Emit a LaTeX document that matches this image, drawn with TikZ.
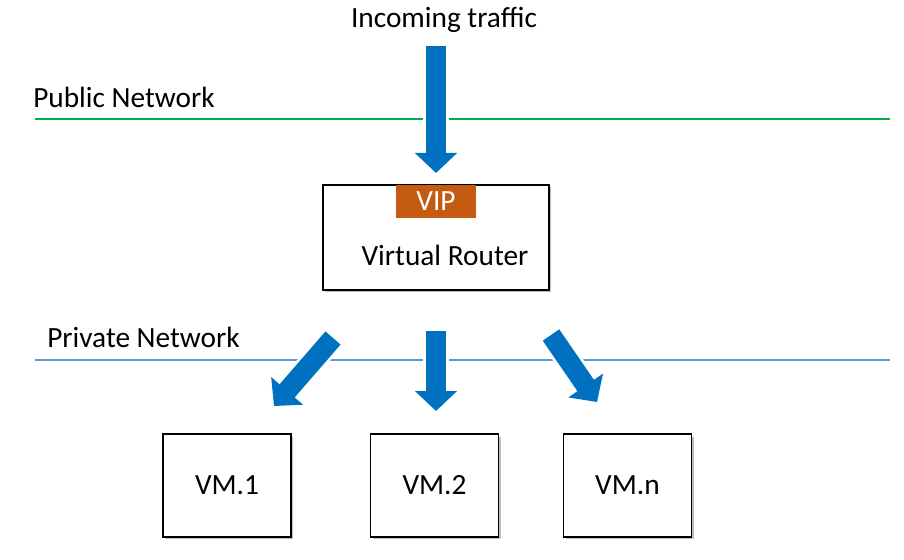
\documentclass[tikz,border=0pt]{standalone}
\usepackage{fontspec}
\setmainfont{Carlito}
\usetikzlibrary{arrows.meta,shadows}
\definecolor{flowblue}{HTML}{0070C0}
\definecolor{pubgreen}{HTML}{00B050}
\definecolor{privblue}{HTML}{5B9BD5}
\definecolor{vipred}{HTML}{C55A11}
\tikzset{
  hostbox/.style={draw, line width=1.4pt, fill=white, inner sep=0pt,
    drop shadow={shadow xshift=1.8pt, shadow yshift=-1.8pt, opacity=0.25, fill=black}},
  netline/.style={line width=1.1pt},
  flowhalo/.style={draw=white, line width=19pt, -{Triangle[width=35pt,length=17pt]}},
  flow/.style={draw=flowblue, line width=15pt, -{Triangle[width=30.75pt,length=15pt]}},
  lbl/.style={font=\fontsize{22}{26}\selectfont, inner sep=0pt}
}
\begin{document}
\begin{tikzpicture}[x=0.75pt,y=-0.75pt]
  \useasboundingbox (0,0) rectangle (904,560);
  % networks
  \node[lbl, anchor=west] (pubtext) at (33,97) {Public Network};
  \node[lbl, anchor=west] (privtext) at (47,337) {Private Network};
  \coordinate (pubL) at (35,119);
  \coordinate (pubR) at (890,119);
  \coordinate (privL) at (35,360);
  \coordinate (privR) at (890,360);
  \draw[netline, pubgreen] (pubL) -- (pubR);
  \draw[netline, privblue] (privL) -- (privR);
  % router
  \node[hostbox, minimum width=169.5pt, minimum height=78.75pt] (router) at (436,237.5) {};
  \node[fill=vipred, text=white, lbl, minimum width=60pt, minimum height=24.75pt] (vip) at (436,201.5) {VIP};
  \node[lbl] (routertext) at (445,255) {Virtual Router};
  % vms
  \foreach \name/\xpos/\label in {vm1/227/VM.1, vm2/434.5/VM.2, vmn/627.5/VM.n}
    \node[hostbox, lbl, minimum width=96pt, minimum height=77pt] (\name) at (\xpos,485.5) {\label};
  % traffic
  \node[lbl] (incoming) at (444,20) {Incoming traffic};
  \coordinate (in0) at (436,46);   \coordinate (in1) at (436,173);
  \coordinate (a0) at (333,338);   \coordinate (a1) at (274,406);
  \coordinate (b0) at (436,331);   \coordinate (b1) at (436,411);
  \coordinate (c0) at (551,335);   \coordinate (c1) at (597,402);
  \foreach \source/\dest in {in0/in1, a0/a1, b0/b1, c0/c1}
    \path[flowhalo] (\source) -- (\dest);
  \foreach \source/\dest in {in0/in1, a0/a1, b0/b1, c0/c1}
    \path[flow] (\source) -- (\dest);
\end{tikzpicture}
\end{document}
